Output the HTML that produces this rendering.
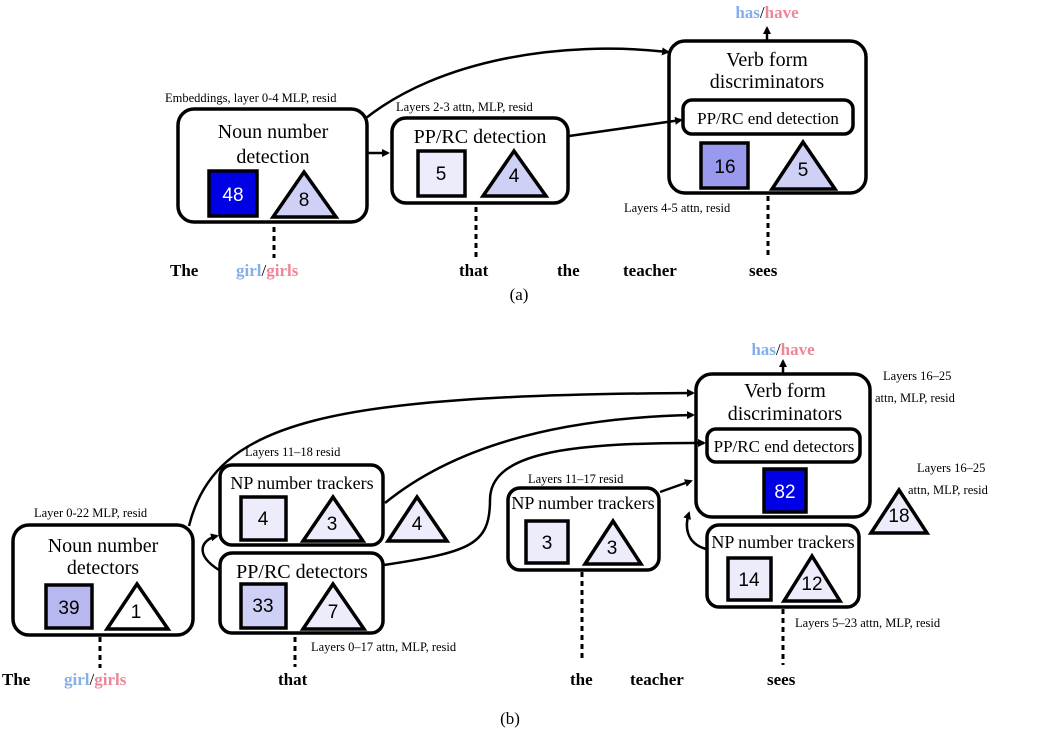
<!DOCTYPE html>
<html><head><meta charset="utf-8"><style>
html,body{margin:0;padding:0;background:#fff;}
svg{display:block;}
.s{font-family:"Liberation Serif",serif;fill:#000;}
.n{font-family:"Liberation Sans",sans-serif;font-size:19px;text-anchor:middle;}
.w{font-family:"Liberation Serif",serif;font-weight:bold;font-size:17px;}
.box{fill:#fff;stroke:#000;stroke-width:3.5;}
.sq{stroke:#000;stroke-width:3.5;}
.ln{fill:none;stroke:#000;stroke-width:2.5;}
.ds{stroke:#000;stroke-width:3;stroke-dasharray:5,4;}
</style></head><body>
<svg width="1039" height="730" viewBox="0 0 1039 730" xmlns="http://www.w3.org/2000/svg">
<defs><marker id="a" markerWidth="8" markerHeight="8" refX="6" refY="4" orient="auto" markerUnits="userSpaceOnUse"><path d="M0,0 L8,4 L0,8 z" fill="#000"/></marker></defs>

<!-- (a) -->
<text class="s" x="165" y="102" font-size="12.5">Embeddings, layer 0-4 MLP, resid</text>
<rect class="box" x="178" y="109" width="189" height="113" rx="16"/>
<text class="s" x="273" y="138" font-size="20" text-anchor="middle">Noun number</text>
<text class="s" x="273" y="163" font-size="20" text-anchor="middle">detection</text>
<rect class="sq" x="209" y="171" width="48" height="45" fill="#0000e6"/>
<text class="n" x="233" y="201" fill="#fff">48</text>
<path class="sq" d="M304,172 L336,217 L273,217 z" fill="#cfd0f5"/>
<text class="n" x="304" y="206">8</text>

<text class="s" x="396" y="111" font-size="12.5">Layers 2-3 attn, MLP, resid</text>
<rect class="box" x="392" y="118" width="176" height="85" rx="14"/>
<text class="s" x="480" y="143" font-size="20" text-anchor="middle">PP/RC detection</text>
<rect class="sq" x="418" y="151" width="47" height="45" fill="#ececfb"/>
<text class="n" x="441" y="180">5</text>
<path class="sq" d="M514,151 L546,196 L483,196 z" fill="#cfd0f5"/>
<text class="n" x="514" y="182">4</text>

<rect class="box" x="669" y="41" width="197" height="152" rx="16"/>
<text class="s" x="767" y="66" font-size="20" text-anchor="middle">Verb form</text>
<text class="s" x="767" y="88" font-size="20" text-anchor="middle">discriminators</text>
<rect class="box" x="683" y="100" width="170" height="34" rx="9"/>
<text class="s" x="768" y="124" font-size="17" text-anchor="middle">PP/RC end detection</text>
<rect class="sq" x="701" y="143" width="47" height="45" fill="#9999ee"/>
<text class="n" x="725" y="173">16</text>
<path class="sq" d="M803,142 L835,189 L772,189 z" fill="#cfd0f5"/>
<text class="n" x="803" y="176">5</text>
<text class="w" x="767" y="18" text-anchor="middle"><tspan fill="#86aee8">has</tspan><tspan fill="#000" font-weight="normal">/</tspan><tspan fill="#ef8598">have</tspan></text>
<text class="s" x="624" y="212" font-size="12.5">Layers 4-5 attn, resid</text>

<line class="ds" x1="274" y1="227" x2="274" y2="258"/>
<line class="ds" x1="476" y1="207" x2="476" y2="258"/>
<line class="ds" x1="768" y1="196" x2="768" y2="257"/>
<text class="w" x="170" y="276">The</text>
<text class="w" x="236" y="276"><tspan fill="#86aee8">girl</tspan><tspan fill="#000" font-weight="normal">/</tspan><tspan fill="#ef8598">girls</tspan></text>
<text class="w" x="459" y="276">that</text>
<text class="w" x="557" y="276">the</text>
<text class="w" x="623" y="276">teacher</text>
<text class="w" x="749" y="276">sees</text>
<text class="s" x="519" y="300" font-size="17" text-anchor="middle">(a)</text>

<!-- (b) -->
<text class="s" x="34" y="517" font-size="12.5">Layer 0-22 MLP, resid</text>
<rect class="box" x="13" y="525" width="180" height="110" rx="16"/>
<text class="s" x="103" y="552" font-size="20" text-anchor="middle">Noun number</text>
<text class="s" x="103" y="574" font-size="20" text-anchor="middle">detectors</text>
<rect class="sq" x="46" y="585" width="46" height="43" fill="#b8b8f0"/>
<text class="n" x="69" y="614">39</text>
<path class="sq" d="M137,584 L168,629 L107,629 z" fill="#fff"/>
<text class="n" x="136" y="618">1</text>

<text class="s" x="245" y="456" font-size="12.5">Layers 11–18 resid</text>
<rect class="box" x="220" y="465" width="163" height="80" rx="12"/>
<text class="s" x="302" y="489" font-size="18" text-anchor="middle">NP number trackers</text>
<rect class="sq" x="241" y="497" width="45" height="43" fill="#ececfb"/>
<text class="n" x="263" y="525">4</text>
<path class="sq" d="M333,497 L363,541 L303,541 z" fill="#ececfb"/>
<text class="n" x="332" y="530">3</text>
<path class="sq" d="M417,497 L447,541 L388,541 z" fill="#ececfb"/>
<text class="n" x="417" y="530">4</text>

<rect class="box" x="220" y="553" width="163" height="80" rx="12"/>
<text class="s" x="302" y="578" font-size="20" text-anchor="middle">PP/RC detectors</text>
<rect class="sq" x="241" y="584" width="45" height="44" fill="#cfd0f5"/>
<text class="n" x="263" y="612">33</text>
<path class="sq" d="M333,584 L364,629 L303,629 z" fill="#ececfb"/>
<text class="n" x="333" y="618">7</text>
<text class="s" x="311" y="651" font-size="12.5">Layers 0–17 attn, MLP, resid</text>

<text class="s" x="528" y="483" font-size="12.5">Layers 11–17 resid</text>
<rect class="box" x="508" y="488" width="151" height="82" rx="12"/>
<text class="s" x="583" y="509" font-size="18" text-anchor="middle">NP number trackers</text>
<rect class="sq" x="526" y="521" width="42" height="42" fill="#ececfb"/>
<text class="n" x="547" y="549">3</text>
<path class="sq" d="M613,521 L641,564 L585,564 z" fill="#ececfb"/>
<text class="n" x="612" y="554">3</text>

<rect class="box" x="696" y="374" width="174" height="143" rx="16"/>
<text class="s" x="785" y="397" font-size="20" text-anchor="middle">Verb form</text>
<text class="s" x="785" y="420" font-size="20" text-anchor="middle">discriminators</text>
<rect class="box" x="707" y="429" width="153" height="33" rx="9"/>
<text class="s" x="784" y="452" font-size="17" text-anchor="middle">PP/RC end detectors</text>
<rect class="sq" x="764" y="469" width="42" height="43" fill="#0000e6"/>
<text class="n" x="785" y="498" fill="#fff">82</text>
<text class="w" x="783" y="355" text-anchor="middle"><tspan fill="#86aee8">has</tspan><tspan fill="#000" font-weight="normal">/</tspan><tspan fill="#ef8598">have</tspan></text>
<text class="s" x="883" y="380" font-size="12.5">Layers 16–25</text>
<text class="s" x="875" y="402" font-size="12.5">attn, MLP, resid</text>
<text class="s" x="917" y="472" font-size="12.5">Layers 16–25</text>
<text class="s" x="908" y="494" font-size="12.5">attn, MLP, resid</text>
<path class="sq" d="M899,490 L927,533 L871,533 z" fill="#ececfb"/>
<text class="n" x="899" y="522">18</text>

<rect class="box" x="707" y="525" width="152" height="82" rx="12"/>
<text class="s" x="783" y="548" font-size="18" text-anchor="middle">NP number trackers</text>
<rect class="sq" x="728" y="558" width="43" height="42" fill="#ececfb"/>
<text class="n" x="749" y="586">14</text>
<path class="sq" d="M812,556 L840,601 L784,601 z" fill="#ececfb"/>
<text class="n" x="812" y="590">12</text>
<text class="s" x="795" y="627" font-size="12.5">Layers 5–23 attn, MLP, resid</text>

<line class="ds" x1="100" y1="637" x2="100" y2="668"/>
<line class="ds" x1="295" y1="637" x2="295" y2="667"/>
<line class="ds" x1="582" y1="572" x2="582" y2="660"/>
<line class="ds" x1="783" y1="609" x2="783" y2="665"/>
<text class="w" x="2" y="685">The</text>
<text class="w" x="64" y="685"><tspan fill="#86aee8">girl</tspan><tspan fill="#000" font-weight="normal">/</tspan><tspan fill="#ef8598">girls</tspan></text>
<text class="w" x="278" y="685">that</text>
<text class="w" x="570" y="685">the</text>
<text class="w" x="630" y="685">teacher</text>
<text class="w" x="767" y="685">sees</text>
<text class="s" x="510" y="724" font-size="17" text-anchor="middle">(b)</text>

<!-- connectors on top -->
<path class="ln" d="M366,118 C440,60 560,40 668,52" marker-end="url(#a)"/>
<path class="ln" d="M569,136 L681,120" marker-end="url(#a)"/>
<path class="ln" d="M368,153 L388,153" marker-end="url(#a)"/>
<path class="ln" d="M767,40 L767,28" marker-end="url(#a)"/>
<path class="ln" d="M189,526 C215,420 330,395 693,393" marker-end="url(#a)"/>
<path class="ln" d="M385,503 C450,450 550,418 693,415" marker-end="url(#a)"/>
<path class="ln" d="M384,565 C470,552 490,545 490,500 C490,455 560,442 704,443" marker-end="url(#a)"/>
<path class="ln" d="M660,492 L691,481" marker-end="url(#a)"/>
<path class="ln" d="M219,570 C195,555 200,540 217,536" marker-end="url(#a)"/>
<path class="ln" d="M706,549 C685,543 685,525 689,513" marker-end="url(#a)"/>
<path class="ln" d="M783,373 L783,361" marker-end="url(#a)"/>
</svg>
</body></html>
